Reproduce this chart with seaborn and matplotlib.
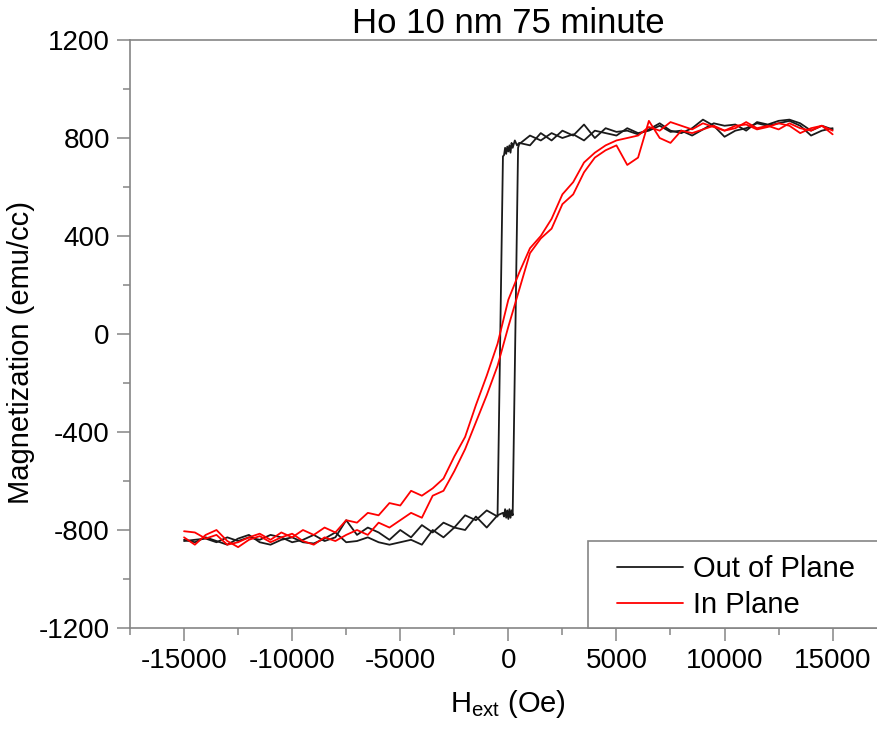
"""
Ho 10 nm 75 minute - M(H) hysteresis loops, out of plane vs in plane
"""

import numpy as np
import pandas as pd
import matplotlib
matplotlib.use("Agg")
import matplotlib.pyplot as plt
from matplotlib.patches import Rectangle
from matplotlib.ticker import MultipleLocator
import seaborn as sns

# field grid (Oe), 500 Oe steps
H_down = [15000, 14500, 14000, 13500, 13000, 12500, 12000, 11500, 11000, 10500,
          10000, 9500, 9000, 8500, 8000, 7500, 7000, 6500, 6000, 5500,
          5000, 4500, 4000, 3500, 3000, 2500, 2000, 1500, 1000, 500,
          0, -500, -1000, -1500, -2000, -2500, -3000, -3500, -4000, -4500,
          -5000, -5500, -6000, -6500, -7000, -7500, -8000, -8500, -9000, -9500,
          -10000, -10500, -11000, -11500, -12000, -12500, -13000, -13500, -14000, -14500,
          -15000]
H_up = H_down[::-1]

# In plane (red)
ip_down = [815, 850, 840, 820, 850, 860, 845, 835, 855, 850,
           830, 845, 860, 835, 850, 865, 830, 845, 810, 800,
           790, 770, 740, 700, 620, 570, 470, 400, 350, 250,
           140, -40, -170, -290, -420, -500, -590, -630, -660, -640,
           -700, -690, -740, -730, -770, -760, -810, -790, -820, -800,
           -830, -810, -840, -815, -830, -850, -860, -820, -835, -810,
           -805]
ip_up = [-830, -860, -820, -800, -845, -870, -840, -825, -850, -830,
         -815, -845, -860, -830, -845, -820, -800, -820, -770, -790,
         -760, -730, -750, -660, -640, -560, -470, -360, -250, -130,
         30, 180, 330, 390, 430, 530, 570, 660, 720, 750,
         770, 690, 720, 870, 800, 780, 830, 820, 835, 850,
         830, 840, 865, 840, 850, 835, 860, 840, 830, 850,
         830]

# Out of plane (black) - finer steps near the switching field
oop_H_down = [15000, 14500, 14000, 13500, 13000, 12500, 12000, 11500, 11000, 10500,
              10000, 9500, 9000, 8500, 8000, 7500, 7000, 6500, 6000, 5500,
              5000, 4500, 4000, 3500, 3000, 2500, 2000, 1500, 1000, 500,
              400, 300, 200, 150, 100, 50, 0, -50, -100, -150, -200, -250,
              -500, -1000, -1500, -2000, -2500, -3000, -3500, -4000, -4500,
              -5000, -5500, -6000, -6500, -7000, -7500, -8000, -8500, -9000, -9500,
              -10000, -10500, -11000, -11500, -12000, -12500, -13000, -13500, -14000, -14500,
              -15000]
oop_down = [840, 830, 810, 850, 870, 860, 850, 860, 840, 830,
            805, 850, 875, 840, 820, 830, 860, 835, 815, 830,
            825, 840, 800, 855, 810, 830, 790, 820, 770, 780,
            770, 790, 760, 780, 740, 770, 745, 765, 735, 760, 730, 725,
            -745, -720, -760, -740, -790, -770, -810, -780, -830,
            -800, -840, -810, -790, -820, -760, -830, -845, -820, -840,
            -850, -830, -820, -840, -830, -845, -830, -850, -835, -840,
            -845]
oop_H_up = [-15000, -14500, -14000, -13500, -13000, -12500, -12000, -11500, -11000, -10500,
            -10000, -9500, -9000, -8500, -8000, -7500, -7000, -6500, -6000, -5500,
            -5000, -4500, -4000, -3500, -3000, -2500, -2000, -1500, -1000, -500,
            -250, -200, -150, -100, -50, 0, 50, 100, 150, 200,
            450, 500, 1000, 1500, 2000, 2500, 3000, 3500, 4000, 4500,
            5000, 5500, 6000, 6500, 7000, 7500, 8000, 8500, 9000, 9500,
            10000, 10500, 11000, 11500, 12000, 12500, 13000, 13500, 14000, 14500,
            15000]
oop_up = [-840, -850, -830, -845, -860, -835, -820, -850, -860, -840,
          -830, -850, -855, -835, -810, -850, -845, -830, -850, -860,
          -850, -840, -860, -800, -830, -790, -800, -745, -790, -740,
          -730, -745, -715, -750, -720, -755, -715, -750, -720, -740,
          760, 775, 810, 790, 820, 800, 815, 790, 830, 820,
          810, 840, 820, 830, 850, 825, 830, 810, 835, 860,
          850, 855, 830, 865, 855, 870, 875, 860, 830, 850,
          835]

frames = [
    pd.DataFrame({'H': oop_H_down, 'M': oop_down, 'sample': 'Out of Plane', 'branch': 'oop_down'}),
    pd.DataFrame({'H': oop_H_up, 'M': oop_up, 'sample': 'Out of Plane', 'branch': 'oop_up'}),
    pd.DataFrame({'H': H_down, 'M': ip_down, 'sample': 'In Plane', 'branch': 'ip_down'}),
    pd.DataFrame({'H': H_up, 'M': ip_up, 'sample': 'In Plane', 'branch': 'ip_up'}),
]
df = pd.concat(frames, ignore_index=True)

sns.set_theme(style='white')
plt.rcParams['font.family'] = ['Liberation Sans', 'DejaVu Sans']
plt.rcParams['mathtext.fontset'] = 'custom'
plt.rcParams['mathtext.rm'] = 'Liberation Sans'
plt.rcParams['mathtext.default'] = 'regular'
plt.rcParams['axes.unicode_minus'] = False
plt.rcParams['text.color'] = 'black'
plt.rcParams['axes.labelcolor'] = 'black'
plt.rcParams['xtick.color'] = 'black'
plt.rcParams['ytick.color'] = 'black'

fig = plt.figure(figsize=(8.78, 7.35), dpi=100)
ax = fig.add_axes([130 / 878, 107 / 735, 756.7 / 878, 588 / 735])

sns.lineplot(data=df, x='H', y='M', hue='sample', units='branch', estimator=None,
             sort=False, hue_order=['Out of Plane', 'In Plane'],
             palette={'Out of Plane': '#1a1a1a', 'In Plane': '#ff0000'},
             linewidth=1.3, legend=False, ax=ax)

ax.set_xlim(-17500, 17500)
ax.set_ylim(-1200, 1200)
ax.xaxis.set_major_locator(MultipleLocator(5000))
ax.xaxis.set_minor_locator(MultipleLocator(2500))
ax.yaxis.set_major_locator(MultipleLocator(400))
ax.yaxis.set_minor_locator(MultipleLocator(200))

spine_col = '#858585'
for side in ['left', 'bottom', 'top', 'right']:
    ax.spines[side].set_color(spine_col)
    ax.spines[side].set_linewidth(1.2)

ax.tick_params(which='major', direction='out', length=9.5, width=1.1, color=spine_col,
               labelcolor='black', labelsize=20, pad=5, bottom=True, left=True)
ax.tick_params(which='minor', direction='out', length=5, width=1.1, color=spine_col,
               bottom=True, left=True)

ax.set_title('Ho 10 nm 75 minute', fontsize=25, pad=4.5)
ax.set_xlabel(r'H$_{ext}$ (Oe)', fontsize=21, labelpad=10)
ax.set_ylabel('Magnetization (emu/cc)', fontsize=21)
ax.yaxis.set_label_coords(-0.125, 0.468)

# legend box, open to the right edge like the original
ax.add_patch(Rectangle((0.605, 0.0), 0.6, 0.148, transform=ax.transAxes,
                       facecolor='white', edgecolor=spine_col, linewidth=1.2,
                       clip_on=False, zorder=5))
leg = ax.legend(handles=ax.lines[:1] + ax.lines[2:3], labels=['Out of Plane', 'In Plane'],
                loc='upper left', bbox_to_anchor=(0.6436, 0.124), frameon=False,
                fontsize=21, handlelength=2.26, handletextpad=0.34, labelspacing=0.28,
                borderpad=0, borderaxespad=0)
leg.set_zorder(6)

fig.savefig('out.png', dpi=100)
